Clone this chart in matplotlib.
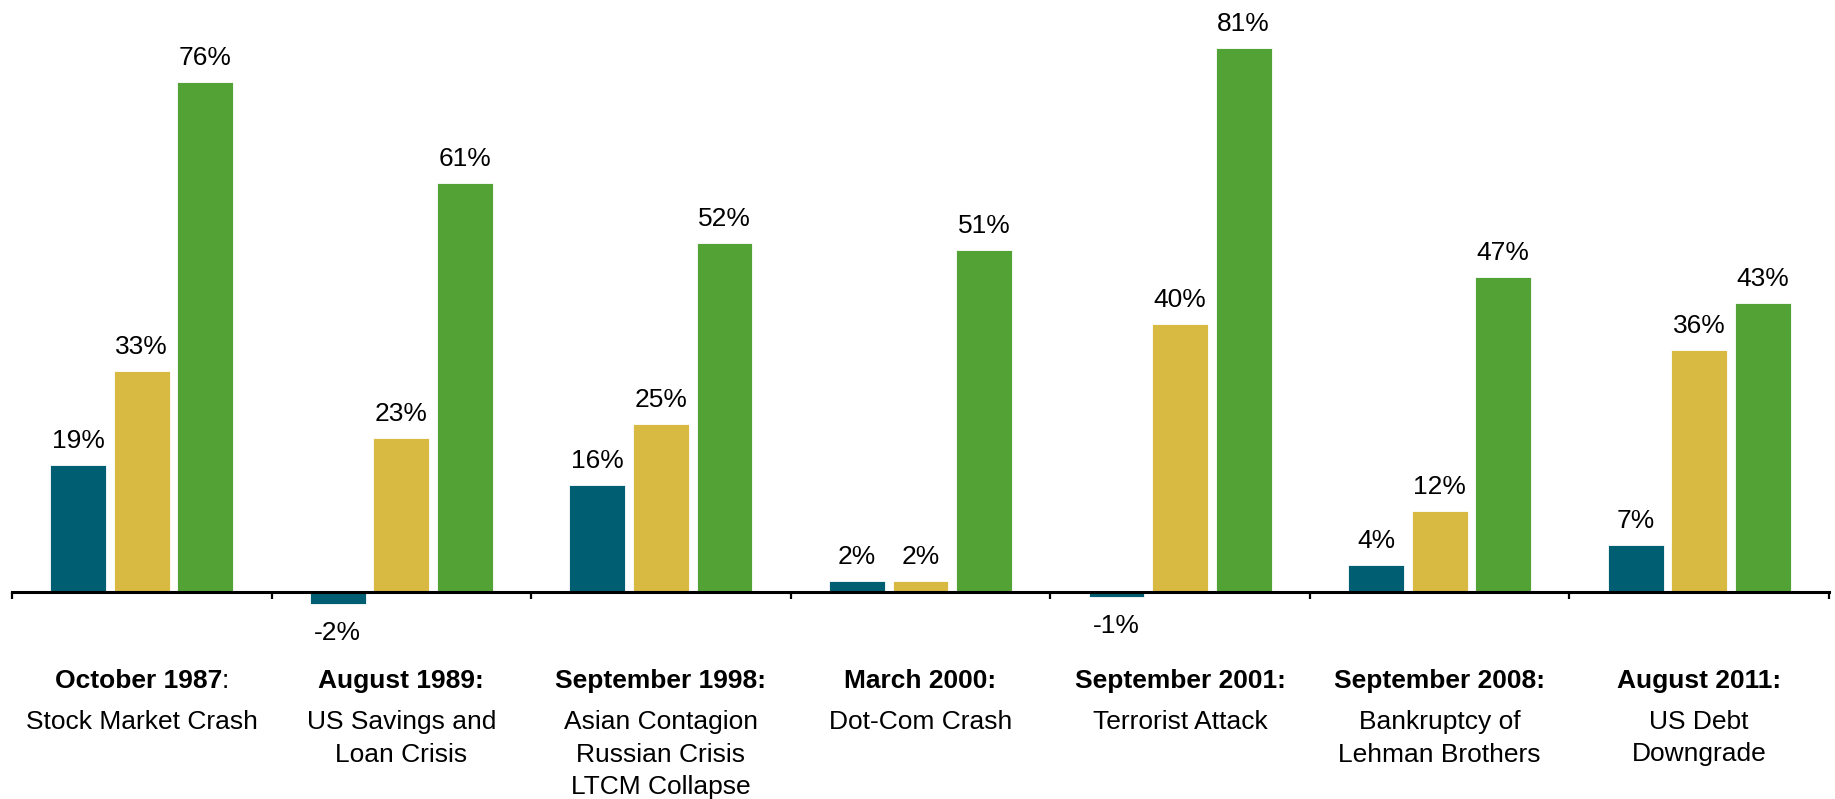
import numpy as np
import matplotlib
matplotlib.use('Agg')
import matplotlib.pyplot as plt

plt.rcParams['font.family'] = ['Liberation Sans', 'DejaVu Sans']

# data (percent)
events_bold = ['October 1987', 'August 1989:', 'September 1998:', 'March 2000:',
               'September 2001:', 'September 2008:', 'August 2011:']
events_desc = [['Stock Market Crash'],
               ['US Savings and', 'Loan Crisis'],
               ['Asian Contagion', 'Russian Crisis', 'LTCM Collapse'],
               ['Dot-Com Crash'],
               ['Terrorist Attack'],
               ['Bankruptcy of', 'Lehman Brothers'],
               ['US Debt', 'Downgrade']]
series_a = [19, -1.8, 16, 1.7, -0.8, 4, 7]
series_b = [33, 23, 25, 1.7, 40, 12, 36]
series_c = [76, 61, 52, 51, 81, 47, 43]
colors = ['#005E73', '#D8B941', '#52A236']

W, H = 1835, 799
fig = plt.figure(figsize=(W / 100, H / 100), dpi=100)
ax = fig.add_axes([12 / W, 0, (1829 - 12) / W, 1])

x = np.arange(len(events_bold))
offs = [-0.245, 0.0, 0.245]
bw = 0.215
for vals, off, col in zip([series_a, series_b, series_c], offs, colors):
    ax.bar(x + off, vals, bw, color=col, edgecolor='white', linewidth=0.6, zorder=2)
    for xi, v in zip(x + off, vals):
        lab = f'{v:.0f}%'
        if v >= 0:
            ax.annotate(lab, (xi, v), xytext=(0, 17), textcoords='offset pixels',
                        ha='center', va='baseline', fontsize=19)
        else:
            ax.annotate(lab, (xi, v), xytext=(0, -17), textcoords='offset pixels',
                        ha='center', va='top', fontsize=19)

# px per percent ~6.71, axis line at 592 px from top
ax.set_ylim(-207 / 6.71, 592 / 6.71)
ax.set_xlim(-0.5, len(x) - 0.5)

for s in ['top', 'right', 'left']:
    ax.spines[s].set_visible(False)
ax.spines['bottom'].set_position(('data', 0))
ax.spines['bottom'].set_linewidth(2.2)
ax.spines['bottom'].set_zorder(3)
ax.set_yticks([])
ax.set_xticks(np.arange(-0.5, len(x), 1.0))
ax.tick_params(axis='x', direction='out', length=5, width=1.6, labelbottom=False)

# category labels: bold title line, then plain lines
tr = ax.get_xaxis_transform()
renderer = fig.canvas.get_renderer()
for xi, b, lines in zip(x, events_bold, events_desc):
    t = ax.text(xi, 1 - 681 / H, b, transform=tr, ha='center', va='center',
                fontsize=19, fontweight='bold')
    if not b.endswith(':'):
        # first label has a plain (non-bold) colon after the bold date
        colon = ax.text(0, 1 - 681 / H, ':', transform=tr, ha='left', va='center', fontsize=19)
        cw = colon.get_window_extent(renderer).width
        t.set_position((xi, 1 - 681 / H))
        bb = t.get_window_extent(renderer)
        shift = cw / 2
        xd = ax.transData.inverted().transform([[bb.x0 - shift, 0], [bb.x1 - shift, 0]])
        t.set_ha('left')
        t.set_x(xd[0][0])
        colon.set_x(xd[1][0])
    for k, ln in enumerate(lines):
        ax.text(xi, 1 - (722 + 32.5 * k) / H, ln, transform=tr, ha='center', va='center',
                fontsize=19)

fig.savefig('out.png', dpi=100)
